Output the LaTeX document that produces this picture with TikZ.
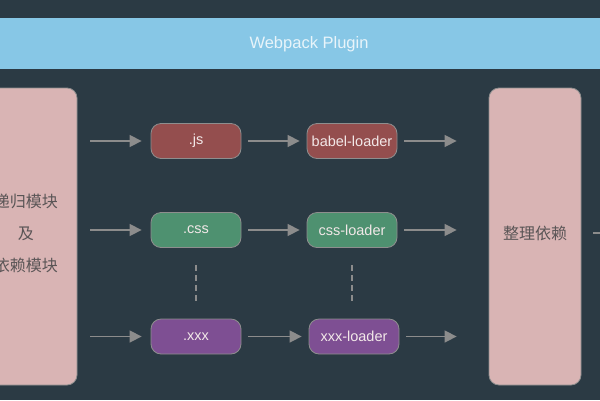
\documentclass[tikz,border=0pt]{standalone}
\usepackage{fontspec}
\setmainfont{Liberation Sans}
\newfontfamily\cjk{Noto Sans CJK SC}
\usetikzlibrary{arrows.meta}
\definecolor{bgc}{HTML}{2B3A44}
\definecolor{bannerc}{HTML}{87C7E6}
\definecolor{bannertxt}{HTML}{E8F4FA}
\definecolor{boxc}{HTML}{D9B4B4}
\definecolor{boxtxt}{HTML}{5A5556}
\definecolor{edgec}{HTML}{8E8E8E}
\definecolor{jsc}{HTML}{944E4E}
\definecolor{cssc}{HTML}{4E9170}
\definecolor{xxxc}{HTML}{7E4F93}
\definecolor{nodetxt}{HTML}{F2E8E8}
\definecolor{arrc}{HTML}{8C8C8C}
\tikzset{
  bigbox/.style={draw=edgec, line width=0.8pt, fill=boxc, rounded corners=10pt, inner sep=0pt},
  bigtxt/.style={inner sep=0pt, text=boxtxt, font=\cjk\fontsize{16}{32}\selectfont, align=center},
  pill/.style={draw=edgec, line width=0.8pt, rounded corners=10pt, minimum width=90pt, minimum height=35pt, inner sep=0pt, text=nodetxt, font=\fontsize{14.5}{16}\selectfont},
  flow/.style={draw=arrc, line width=1.5pt, -{Triangle[length=12pt,width=12pt]}},
  dots/.style={draw=arrc, line width=1.3pt, dash pattern=on 6pt off 4pt}
}
\begin{document}
\begin{tikzpicture}[x=1pt,y=-1pt]
\fill[bgc] (0,0) rectangle (600,400);
\useasboundingbox (0,0) rectangle (600,400);
\begin{scope}
\clip (0,0) rectangle (600,400);
\node[fill=bannerc, minimum width=620pt, minimum height=51pt, inner sep=0pt] (banner) at (300,43.5) {};
\node[text=bannertxt, font=\fontsize{16.5}{18}\selectfont, inner sep=0pt] (bannertext) at (309,44) {Webpack Plugin};
\node[bigbox, minimum width=102pt, minimum height=297pt] (left) at (26,236.5) {};
\node[bigtxt] (lefttext) at (26,233.5) {递归模块\\及\\依赖模块};
\node[bigbox, minimum width=92pt, minimum height=297pt] (right) at (535,236.5) {};
\node[bigtxt] (righttext) at (535,233.5) {整理依赖};
\node[pill, fill=jsc] (js) at (196,141) {.js};
\node[pill, fill=jsc] (babel) at (352,141) {babel-loader};
\node[pill, fill=cssc] (css) at (196,230) {.css};
\node[pill, fill=cssc] (cssl) at (352,230) {css-loader};
\node[pill, fill=xxxc] (xxx) at (196,336.5) {.xxx};
\node[pill, fill=xxxc] (xxxl) at (354,336.5) {xxx-loader};
\coordinate (out) at (600,233);
\foreach \a/\b in {js/babel, css/cssl, xxx/xxxl}{
  \draw[flow, shorten <=13pt, shorten >=9pt] (left.east |- \a) -- (\a);
  \draw[flow, shorten <=7pt, shorten >=7pt] (\a) -- (\b);
  \draw[flow, shorten <=7pt, shorten >=32pt] (\b) -- (right.west |- \b);
}
\draw[dots] ([yshift=-17pt]css.south) -- ([yshift=14pt]xxx.north);
\draw[dots] ([yshift=-17pt]cssl.south) -- ([yshift=14pt]cssl.south |- xxxl.north);
\draw[draw=arrc, line width=1.5pt, shorten <=12pt] (right.east |- out) -- (out);
\end{scope}
\end{tikzpicture}
\end{document}
